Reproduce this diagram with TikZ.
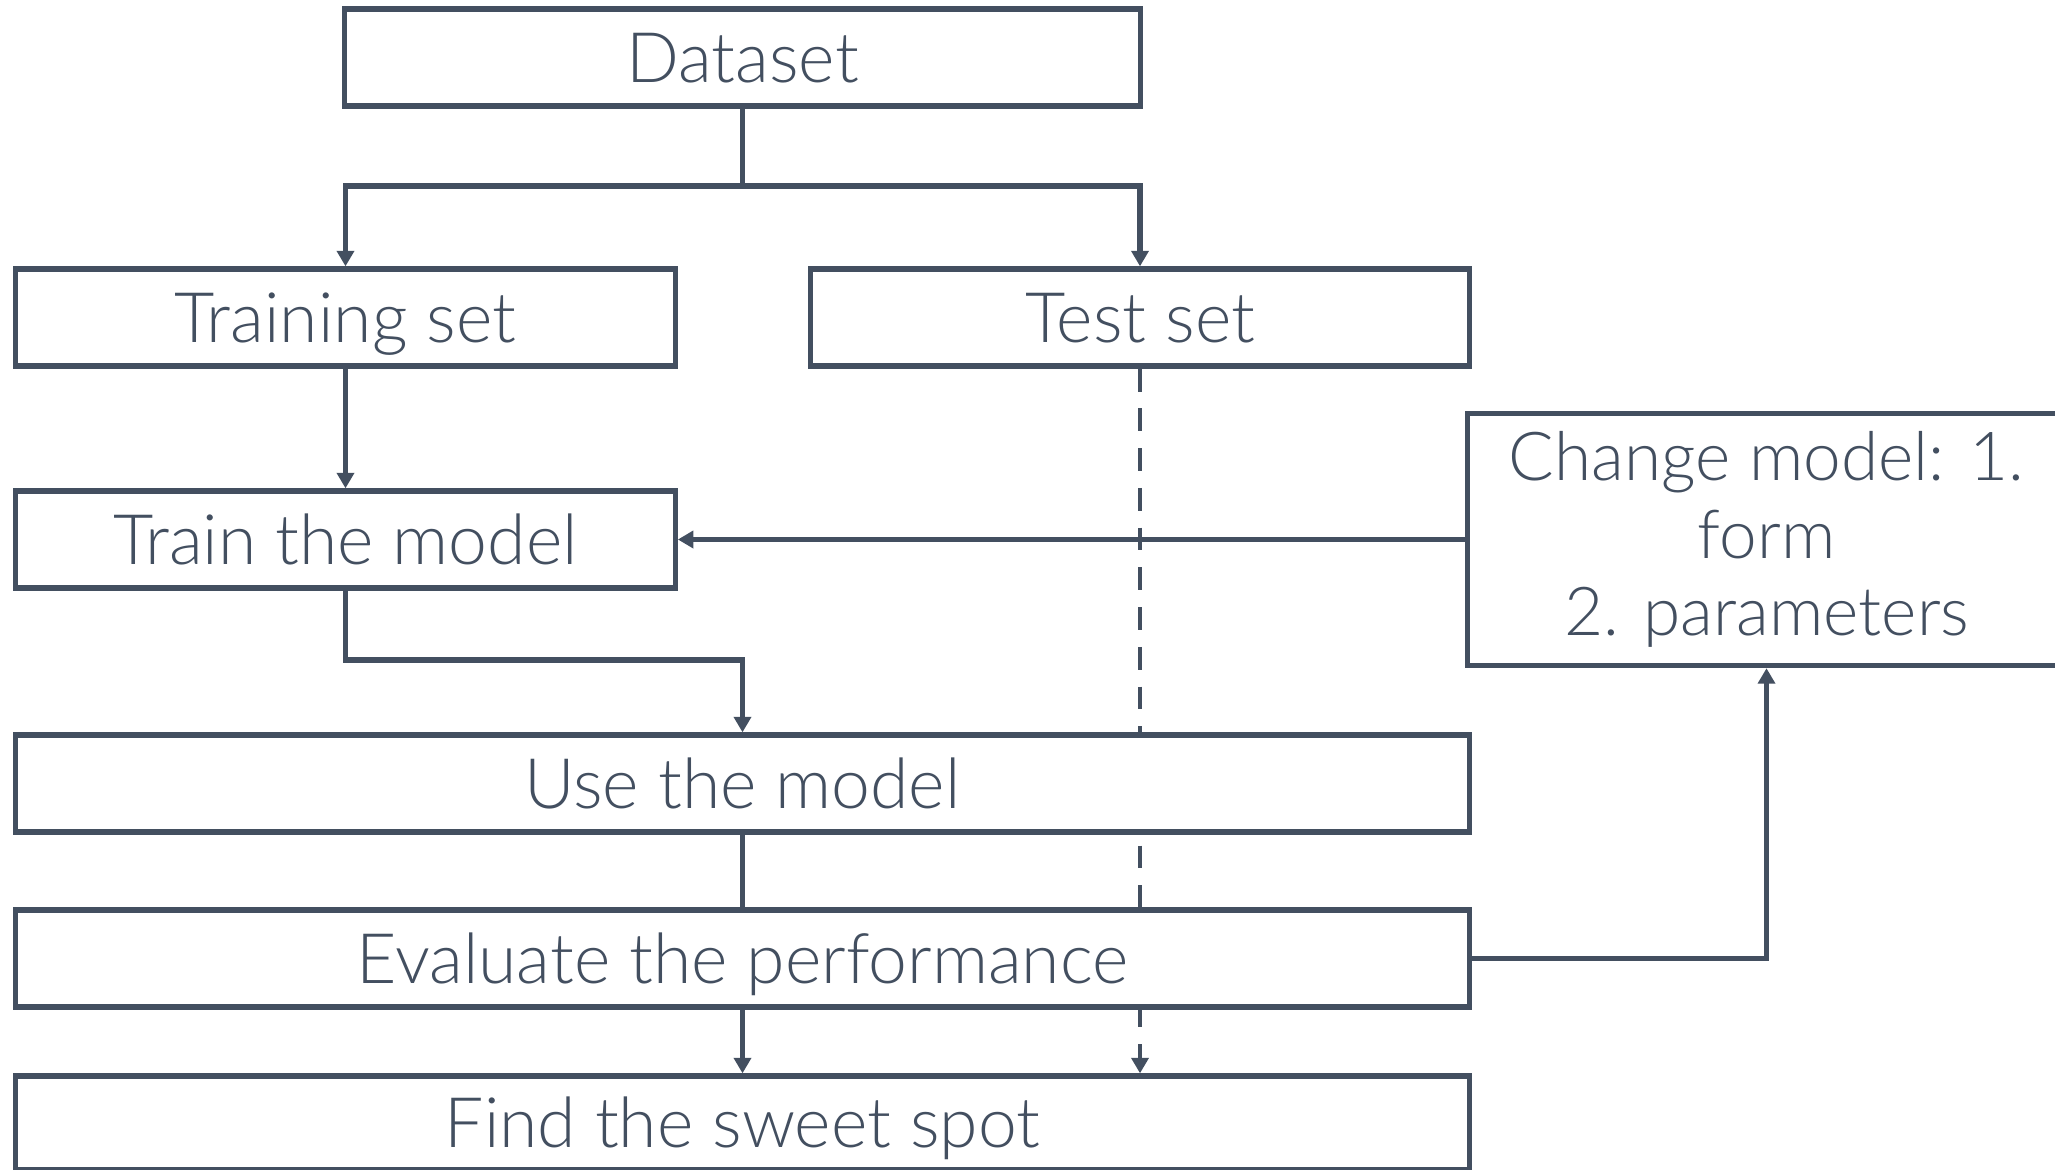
\documentclass[tikz,border=0pt]{standalone}
\usepackage{fontspec}
\setmainfont{Lato Light}
\usetikzlibrary{arrows.meta}
\definecolor{ink}{RGB}{67,79,96}
\pgfdeclarelayer{bg}
\pgfsetlayers{bg,main}
\begin{document}
\begin{tikzpicture}[x=0.01cm,y=-0.01cm,
  box/.style={draw=ink, line width=1.5pt, fill=white, inner sep=0pt,
    text=ink, font=\fontsize{19.8}{22}\selectfont, align=center},
  single/.style={box, text height=14.2pt, text depth=0pt},
  tip/.style={-{Triangle[length=4.4pt,width=4.8pt]}},
  plain/.style={draw=ink, line width=1.45pt},
  link/.style={plain, tip},
  testlink/.style={draw=ink, line width=1.2pt, tip, dash pattern=on 6.5pt off 4.8pt}]
\useasboundingbox (0,0) rectangle (2055,1170);
\clip (0,0) rectangle (2055,1170);

% boxes
\node[single, minimum width=7.95cm, minimum height=0.97cm] (data) at (742.5,57.5) {Dataset};
\node[single, minimum width=6.59cm, minimum height=0.97cm] (train) at (345.5,317.5) {Training set};
\node[single, minimum width=6.58cm, minimum height=0.97cm] (test) at (1140,317.5) {Test set};
\node[single, minimum width=6.59cm, minimum height=0.97cm] (fit) at (345.5,539.5) {Train the model};
\node[box, font=\fontsize{19.2}{22}\selectfont, minimum width=5.97cm, minimum height=2.52cm] (change) at (1766.5,539.5) {Change model: 1.\\form\\2. parameters};
\node[single, minimum width=14.53cm, minimum height=0.97cm] (use) at (742.5,783.5) {Use the model};
\node[single, minimum width=14.53cm, minimum height=0.97cm] (eval) at (742.5,958.5) {Evaluate the performance};
\node[single, minimum width=14.53cm, minimum height=0.94cm] (sweet) at (742.5,1123) {Find the sweet spot};

% split of the dataset
\coordinate (split) at (742.5,186);
\draw[plain] (data.south) -- (split);
\draw[link] (split) -| (train.north);
\draw[link] (split) -| (test.north);

% training path
\draw[link] (train.south) -- (fit.north);
\coordinate (bend) at (345.5,660);
\draw[link] (fit.south) -- (bend) -| (use.north);
\draw[plain] (use.south) -- (eval.north);
\draw[link] (eval.south) -- (sweet.north);

% feedback loop
\draw[link] (change.west) -- (fit.east);
\draw[link] (eval.east) -| (change.south);

% test set goes straight to the final step, behind the boxes
\begin{pgfonlayer}{bg}
\draw[testlink] (test.south) -- (test.south |- sweet.north);
\end{pgfonlayer}
\end{tikzpicture}
\end{document}
